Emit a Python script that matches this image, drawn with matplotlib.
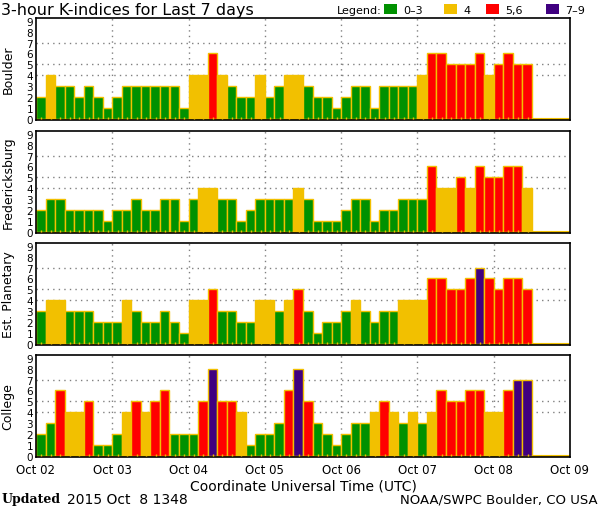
import matplotlib
matplotlib.use('Agg')
import matplotlib.pyplot as plt
from matplotlib.patches import Rectangle
import numpy as np

# ---------------- data ----------------
day_labels = ['Oct 02', 'Oct 03', 'Oct 04', 'Oct 05', 'Oct 06', 'Oct 07', 'Oct 08', 'Oct 09']
stations = ['Boulder', 'Fredericksburg', 'Est. Planetary', 'College']
slots_per_day = 8
n_slots = 56  # 7 days x 8 three-hour intervals

boulder = [2, 4, 3, 3, 2, 3, 2, 1,
           2, 3, 3, 3, 3, 3, 3, 1,
           4, 4, 6, 4, 3, 2, 2, 4,
           2, 3, 4, 4, 3, 2, 2, 1,
           2, 3, 3, 1, 3, 3, 3, 3,
           4, 6, 6, 5, 5, 5, 6, 4,
           5, 6, 5, 5]
fredericksburg = [2, 3, 3, 2, 2, 2, 2, 1,
                  2, 2, 3, 2, 2, 3, 3, 1,
                  3, 4, 4, 3, 3, 1, 2, 3,
                  3, 3, 3, 4, 3, 1, 1, 1,
                  2, 3, 3, 1, 2, 2, 3, 3,
                  3, 6, 4, 4, 5, 4, 6, 5,
                  5, 6, 6, 4]
planetary = [3, 4, 4, 3, 3, 3, 2, 2,
             2, 4, 3, 2, 2, 3, 2, 1,
             4, 4, 5, 3, 3, 2, 2, 4,
             4, 3, 4, 5, 3, 1, 2, 2,
             3, 4, 3, 2, 3, 3, 4, 4,
             4, 6, 6, 5, 5, 6, 7, 6,
             5, 6, 6, 5]
college = [2, 3, 6, 4, 4, 5, 1, 1,
           2, 4, 5, 4, 5, 6, 2, 2,
           2, 5, 8, 5, 5, 4, 1, 2,
           2, 3, 6, 8, 5, 3, 2, 1,
           2, 3, 3, 4, 5, 4, 3, 4,
           3, 4, 6, 5, 5, 6, 6, 4,
           4, 6, 7, 7]
series = [boulder, fredericksburg, planetary, college]

legend_labels = ['0\u20133', '4', '5,6', '7\u20139']
legend_colors = ['#009100', '#f2c000', '#ff0000', '#400080']
edge_color = '#f2c000'
grid_color = '#808080'


def kcolor(v):
    if v <= 3:
        return legend_colors[0]
    if v == 4:
        return legend_colors[1]
    if v <= 6:
        return legend_colors[2]
    return legend_colors[3]


W, H = 600, 510
fig = plt.figure(figsize=(W / 100, H / 100), dpi=100)
fig.patch.set_facecolor('white')

left_px, right_px = 36, 570
axes_tops = [19, 132, 244, 356]
ax_h = 102

for idx, (name, vals) in enumerate(zip(stations, series)):
    top = axes_tops[idx]
    ax = fig.add_axes([left_px / W, 1 - (top + ax_h) / H,
                       (right_px - left_px) / W, ax_h / H])
    x = np.arange(len(vals))
    ax.bar(x, vals, width=1.0, align='edge',
           color=[kcolor(v) for v in vals], edgecolor=edge_color,
           linewidth=1.0, zorder=2)
    # missing / future slots drawn as thin bars
    xm = np.arange(len(vals), n_slots)
    ax.bar(xm, np.full(len(xm), 0.12), width=1.0, align='edge',
           color=legend_colors[0], edgecolor=edge_color, linewidth=0.8, zorder=2)
    # small marks at slot centres
    ax.vlines(x + 0.55, 0, 0.22, color=edge_color, lw=1.0, zorder=3)

    for d in range(1, 7):
        ax.axvline(d * slots_per_day, color=grid_color, lw=1.0,
                   ls=(0, (1, 3)), zorder=0)
    for yv in (4, 5, 7):
        ax.axhline(yv, color=grid_color, lw=1.0, ls=(0, (1, 3)), zorder=0)

    ax.set_xlim(0, n_slots)
    ax.set_ylim(-0.1, 9.25)
    ax.set_yticks(range(10))
    ax.set_yticklabels([str(i) for i in range(10)], fontsize=7.5)
    ax.tick_params(axis='y', length=0, pad=2)
    ax.set_xticks(np.arange(0, n_slots + 1, slots_per_day))
    ax.tick_params(axis='x', length=0, pad=4)
    if idx == 3:
        ax.set_xticklabels(day_labels, fontsize=8.5)
        ax.set_xlabel('Coordinate Universal Time (UTC)', fontsize=10, labelpad=2)
    else:
        ax.set_xticklabels([])
    ax.set_ylabel(name, fontsize=9)
    ax.yaxis.set_label_coords(-0.040, 0.5)
    for s in ('top', 'left', 'bottom'):
        ax.spines[s].set_linewidth(1.2)
        ax.spines[s].set_color('black')
    ax.spines['right'].set_linestyle((0, (2, 1)))
    ax.spines['right'].set_linewidth(1.2)

# title
fig.text(1 / W, 1 - 10 / H, '3-hour K-indices for Last 7 days', fontsize=11.5,
         ha='left', va='center')

# legend
fig.text(337 / W, 1 - 11 / H, 'Legend:', fontsize=8, ha='left', va='center')
patch_x = [384, 444, 486, 546]
for px, lab, col in zip(patch_x, legend_labels, legend_colors):
    fig.patches.append(Rectangle((px / W, 1 - 15 / H), 13 / W, 10 / H,
                                 transform=fig.transFigure, facecolor=col,
                                 edgecolor='none'))
    fig.text((px + 19) / W, 1 - 11 / H, lab, fontsize=8, ha='left', va='center')

# footer
fig.text(2 / W, 1 - 500 / H, 'Updated', fontsize=9, fontweight='bold',
         family='DejaVu Serif', ha='left', va='center')
fig.text(67 / W, 1 - 500 / H, '2015 Oct  8 1348', fontsize=10,
         ha='left', va='center')
fig.text(598 / W, 1 - 500 / H, 'NOAA/SWPC Boulder, CO USA', fontsize=9.5,
         ha='right', va='center')

fig.savefig('out.png', dpi=100, facecolor='white')
